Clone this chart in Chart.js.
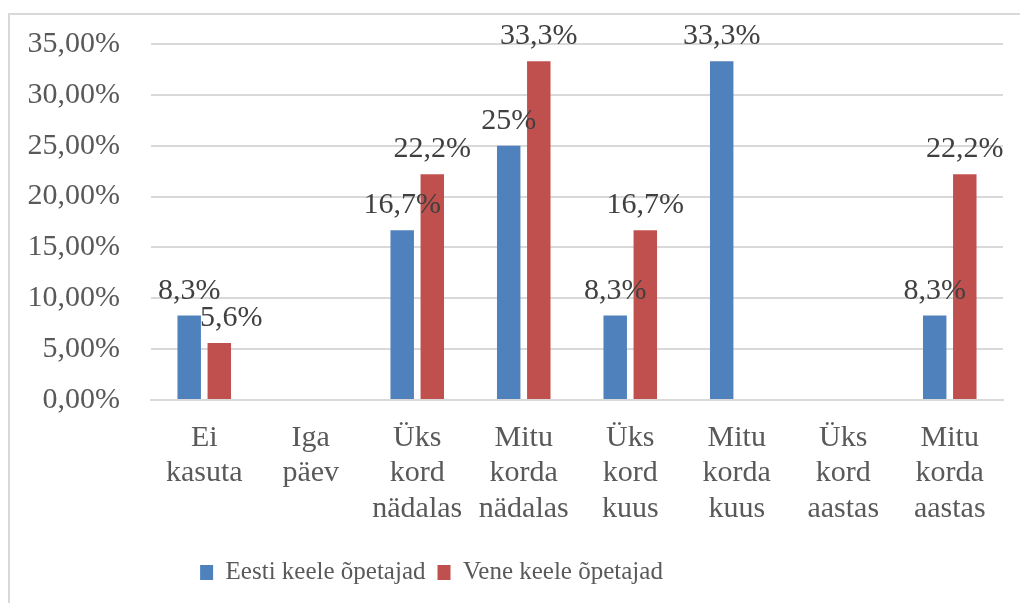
<!DOCTYPE html>
<html>
<head>
<meta charset="utf-8">
<script src="https://cdn.jsdelivr.net/npm/chart.js@4/dist/chart.umd.min.js"></script>
<style>
  body { margin: 0; background: #fff; overflow: hidden; }
  #frame { position: absolute; left: 8px; top: 13px; width: 1100px; height: 700px; border: 2px solid #d9d9d9; }
  #wrap { position: absolute; left: 0; top: 0; width: 1020px; height: 603px; }
</style>
</head>
<body>
<div id="frame"></div>
<div id="wrap"><canvas id="myChart" width="1020" height="603"></canvas></div>
<script>
// categories (multi-line labels like in the excel chart)
const categories = [
	["Ei", "kasuta"],
	["Iga", "päev"],
	["Üks", "kord", "nädalas"],
	["Mitu", "korda", "nädalas"],
	["Üks", "kord", "kuus"],
	["Mitu", "korda", "kuus"],
	["Üks", "kord", "aastas"],
	["Mitu", "korda", "aastas"]
];
const seriesNames = ["Eesti keele õpetajad", "Vene keele õpetajad"];
const eestiValues = [8.3, null, 16.7, 25, 8.3, 33.3, null, 8.3];
const veneValues = [5.6, null, 22.2, 33.3, 16.7, null, null, 22.2];
const yTicks = [0, 5, 10, 15, 20, 25, 30, 35];

const fontFam = '"Liberation Serif", "Times New Roman", serif';

function pct(v) {
	return String(v).replace('.', ',') + '%';
}

// draws the value labels above the bars
const valueLabels = {
	id: 'valueLabels',
	afterDatasetsDraw(chart) {
		const ctx = chart.ctx;
		ctx.save();
		ctx.font = '30px ' + fontFam;
		ctx.fillStyle = '#404040';
		ctx.textAlign = 'center';
		ctx.textBaseline = 'alphabetic';
		chart.data.datasets.forEach((ds, i) => {
			const meta = chart.getDatasetMeta(i);
			meta.data.forEach((bar, j) => {
				const v = ds.data[j];
				if (v == null) return;
				// small nudge right for the second series so the labels don't collide (like in excel)
				const dx = (i == 1 && bar.height < 80) ? 12 : 0;
				ctx.fillText(pct(v), bar.x + dx, bar.y - 17);
			});
		});
		ctx.restore();
	}
};

// excel puts the legend left of the middle, move it a bit
const legendShift = {
	id: 'legendShift',
	afterLayout(chart) {
		chart.legend.left -= 70;
		chart.legend.right -= 70;
	}
};

const ctx = document.getElementById('myChart').getContext('2d');
const myChart = new Chart(ctx, {
	type: 'bar',
	data: {
		labels: categories,
		datasets: [
			{ label: seriesNames[0], data: eestiValues, backgroundColor: '#4F81BD', categoryPercentage: 0.565, barPercentage: 0.78 },
			{ label: seriesNames[1], data: veneValues, backgroundColor: '#C0504D', categoryPercentage: 0.565, barPercentage: 0.78 }
		]
	},
	options: {
		responsive: false,
		animation: false,
		layout: { padding: { top: 44, right: 17, left: 0, bottom: 8 } },
		scales: {
			x: {
				grid: { display: false, drawTicks: false },
				border: { display: true, color: '#d9d9d9', width: 2 },
				ticks: { color: '#595959', font: { family: fontFam, size: 30, lineHeight: 1.19 }, padding: 20, maxRotation: 0, autoSkip: false },
				afterFit(scale) { scale.height = 148; }
			},
			y: {
				min: 0, max: 35,
				afterBuildTicks(scale) { scale.ticks = yTicks.map(v => ({ value: v })); },
				grid: { color: '#d9d9d9', lineWidth: 2, drawTicks: false },
				border: { display: false },
				ticks: {
					color: '#595959',
					font: { family: fontFam, size: 30 },
					padding: 31,
					callback: v => v.toFixed(2).replace('.', ',') + '%'
				},
				afterFit(scale) {
					scale.width = 151;
					// tick padding otherwise pushes the plot top down
					scale.paddingTop = 0;
					scale.paddingBottom = 0;
				}
			}
		},
		plugins: {
			tooltip: { enabled: false },
			legend: {
				position: 'bottom',
				labels: { color: '#595959', font: { family: fontFam, size: 25 }, boxWidth: 13, boxHeight: 15, padding: 12 }
			}
		}
	},
	plugins: [valueLabels, legendShift]
});
</script>
</body>
</html>
